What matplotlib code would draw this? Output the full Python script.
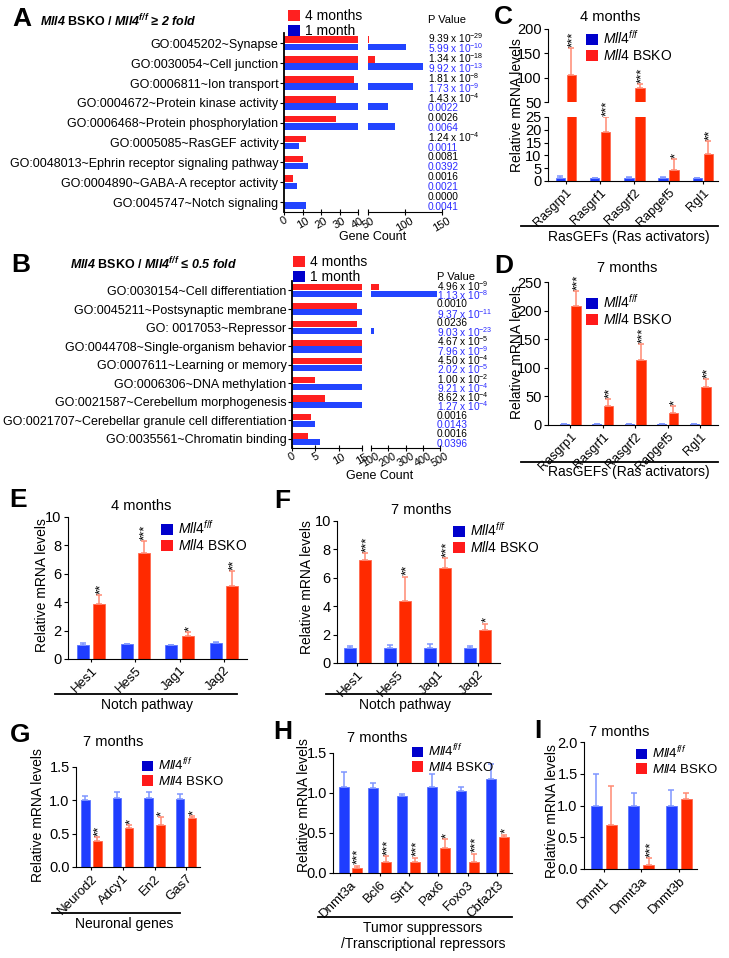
import matplotlib
matplotlib.use('Agg')
import matplotlib.pyplot as plt
import matplotlib.transforms as mtransforms
from matplotlib.lines import Line2D
from matplotlib.patches import Patch
import numpy as np

plt.rcParams['font.family'] = ['Liberation Sans', 'DejaVu Sans']
plt.rcParams['axes.facecolor'] = 'none'
plt.rcParams['mathtext.fontset'] = 'custom'
plt.rcParams['mathtext.rm'] = 'Liberation Sans'
plt.rcParams['mathtext.it'] = 'Liberation Sans:italic'
plt.rcParams['mathtext.bf'] = 'Liberation Sans:bold'
plt.rcParams['mathtext.bfit'] = 'Liberation Sans:bold:italic'

# ---- data: GO terms (A, B) ----
go_up_terms = ['GO:0045202~Synapse', 'GO:0030054~Cell junction', 'GO:0006811~Ion transport',
               'GO:0004672~Protein kinase activity', 'GO:0006468~Protein phosphorylation',
               'GO:0005085~RasGEF activity', 'GO:0048013~Ephrin receptor signaling pathway',
               'GO:0004890~GABA-A receptor activity', 'GO:0045747~Notch signaling']
go_up_4m = [52, 59, 38, 28, 28, 12, 10, 5, 0]
go_up_1m = [101, 124, 111, 77, 87, 8, 13, 7, 12]
go_up_p4m = [r'9.39 x 10$^{-29}$', r'1.34 x 10$^{-18}$', r'1.81 x 10$^{-8}$', r'1.43 x 10$^{-4}$',
             '0.0026', r'1.24 x 10$^{-4}$', '0.0081', '0.0016', '0.0000']
go_up_p1m = [r'5.99 x 10$^{-10}$', r'9.92 x 10$^{-13}$', r'1.73 x 10$^{-9}$', '0.0022',
             '0.0064', '0.0011', '0.0392', '0.0021', '0.0041']

go_down_terms = ['GO:0030154~Cell differentiation', 'GO:0045211~Postsynaptic membrane',
                 'GO: 0017053~Repressor', 'GO:0044708~Single-organism behavior',
                 'GO:0007611~Learning or memory', 'GO:0006306~DNA methylation',
                 'GO:0021587~Cerebellum morphogenesis',
                 'GO:0021707~Cerebellar granule cell differentiation',
                 'GO:0035561~Chromatin binding']
go_down_4m = [146, 14, 14, 15, 15, 5, 7, 4, 3.5]
go_down_1m = [480, 15, 119, 15, 15, 15, 15, 5, 6]
go_down_p4m = [r'4.96 x 10$^{-9}$', '0.0010', '0.0236', r'4.67 x 10$^{-5}$', r'4.50 x 10$^{-4}$',
               r'1.00 x 10$^{-2}$', r'8.62 x 10$^{-4}$', '0.0016', '0.0016']
go_down_p1m = [r'1.13 x 10$^{-8}$', r'9.37 x 10$^{-11}$', r'9.03 x 10$^{-23}$', r'7.96 x 10$^{-9}$',
               r'2.02 x 10$^{-5}$', r'9.21 x 10$^{-4}$', r'1.27 x 10$^{-4}$', '0.0143', '0.0396']

# ---- data: qPCR (C - I) ----
rasgef_genes = ['Rasgrp1', 'Rasgrf1', 'Rasgrf2', 'Rapgef5', 'Rgl1']
c_ctrl = [1.0, 1.0, 1.0, 1.0, 1.0]
c_ctrl_err = [1.1, 0.3, 0.4, 0.4, 0.3]
c_ko = [105, 19, 79, 4.3, 10.4]
c_ko_err = [56, 6, 7, 4.2, 5.2]
c_sig = ['***', '***', '***', '*', '**']

d_ctrl = [1.0, 1.0, 1.0, 1.0, 1.0]
d_ctrl_err = [0.6, 0.4, 0.5, 0.5, 0.4]
d_ko = [208, 33, 113, 21.5, 66]
d_ko_err = [26, 12, 28, 11.5, 14]
d_sig = ['***', '**', '***', '*', '**']

notch_genes = ['Hes1', 'Hes5', 'Jag1', 'Jag2']
e_ctrl = [1.0, 1.05, 0.97, 1.12]
e_ctrl_err = [0.15, 0.04, 0.04, 0.07]
e_ko = [3.9, 7.45, 1.62, 5.15]
e_ko_err = [0.6, 0.85, 0.25, 1.05]
e_sig = ['**', '***', '*', '**']

f_ctrl = [1.06, 1.06, 1.06, 1.06]
f_ctrl_err = [0.17, 0.22, 0.3, 0.13]
f_ko = [7.25, 4.35, 6.7, 2.35]
f_ko_err = [0.5, 1.72, 0.68, 0.42]
f_sig = ['***', '**', '***', '*']

neuro_genes = ['Neurod2', 'Adcy1', 'En2', 'Gas7']
g_ctrl = [1.0, 1.04, 1.04, 1.02]
g_ctrl_err = [0.06, 0.08, 0.08, 0.07]
g_ko = [0.39, 0.59, 0.63, 0.74]
g_ko_err = [0.06, 0.04, 0.12, 0.02]
g_sig = ['**', '*', '*', '*']

tsg_genes = ['Dnmt3a', 'Bcl6', 'Sirt1', 'Pax6', 'Foxo3', 'Cbfa2t3']
h_ctrl = [1.07, 1.06, 0.96, 1.07, 1.03, 1.17]
h_ctrl_err = [0.19, 0.07, 0.03, 0.17, 0.04, 0.19]
h_ko = [0.06, 0.14, 0.14, 0.31, 0.14, 0.45]
h_ko_err = [0.03, 0.07, 0.05, 0.11, 0.1, 0.03]
h_sig = ['***', '***', '***', '*', '***', '*']

dnmt_genes = ['Dnmt1', 'Dnmt3a', 'Dnmt3b']
i_ctrl = [1.0, 1.0, 1.0]
i_ctrl_err = [0.5, 0.2, 0.25]
i_ko = [0.7, 0.06, 1.1]
i_ko_err = [0.6, 0.11, 0.1]
i_sig = ['', '***', '']

# ---- styles ----
BLUE, BLUE_ERR = '#1f3dff', '#7f96ff'
RED, RED_ERR = '#ff2a00', '#ff8a73'
GO_RED, GO_BLUE = '#ff2020', '#2244ff'
P_BLUE = '#2b2bff'
LEG_BLUE, LEG_RED = '#0000cc', '#ff1a1a'

W, H = 729, 958
fig = plt.figure(figsize=(W / 100, H / 100), dpi=100)


def box(l, t, r, b):
    return [l / W, 1 - b / H, (r - l) / W, (b - t) / H]


def fx(x):
    return x / W


def fy(y):
    return 1 - y / H


def hline(x1, x2, y):
    fig.add_artist(Line2D([fx(x1), fx(x2)], [fy(y), fy(y)], transform=fig.transFigure,
                          color='black', lw=1.3))


def ftext(x, y, s, **kw):
    fig.text(fx(x), fy(y), s, **kw)


def legend(ax, x, y, labels, colors, size):
    handles = [Patch(facecolor=c, edgecolor='none') for c in colors]
    ax.legend(handles, labels, loc='upper left', bbox_to_anchor=(fx(x), fy(y)),
              bbox_transform=fig.transFigure, frameon=False, fontsize=size,
              handlelength=0.85, handleheight=0.85, handletextpad=0.35,
              labelspacing=0.1, borderpad=0, borderaxespad=0)


# ---------------- GO panels ----------------
def go_panel(ax_l, ax_r, terms, v4, v1, p4, p1, lmax, rlim, lticks, rticks, ylim, px):
    y = np.arange(len(terms))
    for ax in (ax_l, ax_r):
        ax.barh(y - 0.18, v4, 0.33, color=GO_RED)
        ax.barh(y + 0.18, v1, 0.33, color=GO_BLUE)
        ax.set_ylim(ylim)
        ax.spines[['top', 'right']].set_visible(False)
        ax.tick_params(axis='x', direction='inout', length=5, labelsize=8,
                       labelrotation=30, pad=0)
    ax_l.set_xlim(0, lmax)
    ax_r.set_xlim(*rlim)
    ax_l.set_xticks(lticks)
    ax_r.set_xticks(rticks)
    ax_l.set_yticks(y)
    ax_l.set_yticklabels(terms, fontsize=9)
    ax_l.tick_params(axis='y', length=3, pad=1)
    ax_r.set_yticks([])
    ax_r.spines['left'].set_visible(False)
    ax_l.spines['left'].set_linewidth(1.3)
    trans = mtransforms.blended_transform_factory(fig.transFigure, ax_l.transData)
    for i in range(len(terms)):
        ax_l.text(fx(px), i - 0.25, p4[i], transform=trans, fontsize=7.3,
                  color='black', va='center', ha='left')
        ax_l.text(fx(px), i + 0.25, p1[i], transform=trans, fontsize=7.3,
                  color=P_BLUE, va='center', ha='left')


axA1 = fig.add_axes(box(284, 33, 358, 212))
axA2 = fig.add_axes(box(368, 33, 442, 212))
go_panel(axA1, axA2, go_up_terms, go_up_4m, go_up_1m, go_up_p4m, go_up_p1m,
         40, (50, 150), [0, 10, 20, 30, 40], [50, 100, 150], (8.5, -0.52), 428)
ftext(373, 237, 'Gene Count', fontsize=9, ha='center', va='center')
ftext(428, 20, 'P Value', fontsize=8, ha='left', va='center')
legend(axA1, 288, 9, ['4 months', '1 month'], [GO_RED, LEG_BLUE], 10)
ftext(22, 19, 'A', fontsize=19, fontweight='bold', ha='center', va='center')
ftext(40, 21, r'$\mathbfit{Mll4}$ BSKO / $\mathbfit{Mll4}^{\mathbfit{f/f}}$ $\mathbfit{≥\ 2\ fold}$',
      fontsize=9, fontweight='bold', ha='left', va='center')

axB1 = fig.add_axes(box(292, 281, 362, 448))
axB2 = fig.add_axes(box(371, 281, 440, 448))
go_panel(axB1, axB2, go_down_terms, go_down_4m, go_down_1m, go_down_p4m, go_down_p1m,
         15, (100, 500), [0, 5, 10, 15], [100, 200, 300, 400, 500], (8.49, -0.51), 437)
axB2.tick_params(axis='x', labelsize=7.8)
ftext(380, 476, 'Gene Count', fontsize=9, ha='center', va='center')
ftext(437, 277, 'P Value', fontsize=8, ha='left', va='center')
legend(axB1, 293, 255, ['4 months', '1 month'], [GO_RED, LEG_BLUE], 10)
ftext(21, 265, 'B', fontsize=19, fontweight='bold', ha='center', va='center')
ftext(70, 264, r'$\mathbfit{Mll4}$ BSKO / $\mathbfit{Mll4}^{\mathbfit{f/f}}$ $\mathbfit{≤\ 0.5\ fold}$',
      fontsize=9, fontweight='bold', ha='left', va='center')


# ---------------- qPCR panels ----------------
def qpcr(ax, genes, ctrl, ctrl_err, ko, ko_err, width, off, xlim, ylim, yticks, ylabels=None,
         show_x=True, xsize=9.5):
    n = len(genes)
    x = np.arange(n)
    zeros = np.zeros(n)
    ax.bar(x - off, ctrl, width, color=BLUE, edgecolor='#5a74ff', lw=0.6,
           yerr=[zeros, ctrl_err],
           error_kw=dict(ecolor=BLUE_ERR, elinewidth=1.1, capsize=2.5, capthick=1.1))
    ax.bar(x + off, ko, width, color=RED, edgecolor='#ff6a50', lw=0.6,
           yerr=[zeros, ko_err],
           error_kw=dict(ecolor=RED_ERR, elinewidth=1.1, capsize=2.5, capthick=1.1))
    ax.set_xlim(xlim)
    ax.set_ylim(ylim)
    ax.set_yticks(yticks)
    if ylabels is not None:
        ax.set_yticklabels(ylabels)
    ax.spines[['top', 'right']].set_visible(False)
    ax.tick_params(axis='y', labelsize=10.5, length=3, pad=1.5)
    ax.set_xticks(x)
    if show_x:
        ax.set_xticklabels(genes, rotation=45, ha='right', rotation_mode='anchor', fontsize=xsize)
        ax.tick_params(axis='x', length=2, pad=2)
    else:
        ax.set_xticklabels([])
        ax.tick_params(axis='x', length=0)


def stars(ax, ko, ko_err, sig, off, size=9.5):
    for i, s in enumerate(sig):
        if s:
            ax.annotate(s, (i + off, ko[i] + ko_err[i]), xytext=(1.5, 1),
                        textcoords='offset points', rotation=90, ha='center', va='bottom',
                        fontsize=size)


def ylab(x, y):
    ftext(x, y, 'Relative mRNA levels', rotation=90, fontsize=10, ha='center', va='center')


def title(x, y, s):
    ftext(x, y, s, fontsize=10.5, ha='center', va='center')


gleg = [r'$\mathit{Mll4^{f/f}}$', r'$\mathit{Mll4}$ BSKO']

# C (broken y axis)
axC1 = fig.add_axes(box(548, 29, 718, 102))
axC2 = fig.add_axes(box(548, 117, 718, 181))
for ax in (axC1, axC2):
    qpcr(ax, rasgef_genes, c_ctrl, c_ctrl_err, c_ko, c_ko_err, 0.28, 0.16, (-0.52, 4.44),
         (0, 25), [0, 5, 10, 15, 20, 25], show_x=(ax is axC2), xsize=9.2)
axC1.set_ylim(50, 200)
axC1.set_yticks([50, 100, 150, 200])
axC1.spines['bottom'].set_visible(False)
for i, s in enumerate(c_sig):
    top = c_ko[i] + c_ko_err[i]
    ax = axC1 if top > 25 else axC2
    ax.annotate(s, (i + 0.16, top), xytext=(1.5, 1), textcoords='offset points',
                rotation=90, ha='center', va='bottom', fontsize=9.5)
legend(axC1, 586, 29, gleg, [LEG_BLUE, LEG_RED], 10)
ylab(517, 105)
title(610, 17, '4 months')
ftext(503, 17, 'C', fontsize=19, fontweight='bold', ha='center', va='center')
hline(521, 718, 226)
ftext(629, 237, 'RasGEFs (Ras activators)', fontsize=10, ha='center', va='center')

# D
axD = fig.add_axes(box(548, 282, 718, 425))
qpcr(axD, rasgef_genes, d_ctrl, d_ctrl_err, d_ko, d_ko_err, 0.28, 0.18, (-0.68, 4.55),
     (0, 250), [0, 50, 100, 150, 200, 250], xsize=9.2)
stars(axD, d_ko, d_ko_err, d_sig, 0.18)
legend(axD, 586, 293, gleg, [LEG_BLUE, LEG_RED], 10)
ylab(517, 352)
title(627, 268, '7 months')
ftext(504, 266, 'D', fontsize=19, fontweight='bold', ha='center', va='center')
hline(521, 718, 462)
ftext(629, 472, 'RasGEFs (Ras activators)', fontsize=10, ha='center', va='center')

# E
axE = fig.add_axes(box(68, 517, 247, 659))
qpcr(axE, notch_genes, e_ctrl, e_ctrl_err, e_ko, e_ko_err, 0.27, 0.185, (-0.52, 3.52),
     (0, 10), [0, 2, 4, 6, 8, 10])
stars(axE, e_ko, e_ko_err, e_sig, 0.185)
legend(axE, 161, 519, gleg, [LEG_BLUE, LEG_RED], 10)
ylab(42, 585)
title(141, 506, '4 months')
ftext(18, 500, 'E', fontsize=19, fontweight='bold', ha='center', va='center')
hline(55, 237, 694)
ftext(147, 705, 'Notch pathway', fontsize=10, ha='center', va='center')

# F
axF = fig.add_axes(box(337, 521, 500, 663))
qpcr(axF, notch_genes, f_ctrl, f_ctrl_err, f_ko, f_ko_err, 0.3, 0.19, (-0.51, 3.56),
     (0, 10), [0, 2, 4, 6, 8, 10])
stars(axF, f_ko, f_ko_err, f_sig, 0.19)
legend(axF, 453, 521, gleg, [LEG_BLUE, LEG_RED], 10)
ylab(307, 587)
title(421, 510, '7 months')
ftext(282, 501, 'F', fontsize=19, fontweight='bold', ha='center', va='center')
hline(326, 491, 694)
ftext(405, 705, 'Notch pathway', fontsize=10, ha='center', va='center')

# G
axG = fig.add_axes(box(76, 767, 200, 867))
qpcr(axG, neuro_genes, g_ctrl, g_ctrl_err, g_ko, g_ko_err, 0.27, 0.19, (-0.49, 3.44),
     (0, 1.5), [0, 0.5, 1.0, 1.5], ['0.0', '0.5', '1.0', '1.5'])
stars(axG, g_ko, g_ko_err, g_sig, 0.19)
legend(axG, 142, 757, gleg, [LEG_BLUE, LEG_RED], 9.5)
ylab(38, 815)
title(113, 742, '7 months')
ftext(20, 735, 'G', fontsize=19, fontweight='bold', ha='center', va='center')
hline(52, 180, 913)
ftext(124, 924, 'Neuronal genes', fontsize=10, ha='center', va='center')

# H
axH = fig.add_axes(box(333, 753, 512, 873))
qpcr(axH, tsg_genes, h_ctrl, h_ctrl_err, h_ko, h_ko_err, 0.34, 0.22, (-0.58, 5.5),
     (0, 1.5), [0, 0.5, 1.0, 1.5], ['0.0', '0.5', '1.0', '1.5'])
stars(axH, h_ko, h_ko_err, h_sig, 0.22)
legend(axH, 412, 743, gleg, [LEG_BLUE, LEG_RED], 9.5)
ylab(304, 805)
title(377, 738, '7 months')
ftext(283, 732, 'H', fontsize=19, fontweight='bold', ha='center', va='center')
hline(318, 512, 917)
ftext(423, 928, 'Tumor suppressors', fontsize=10, ha='center', va='center')
ftext(423, 944, '/Transcriptional repressors', fontsize=10, ha='center', va='center')

# I
axI = fig.add_axes(box(584, 742, 697, 869))
qpcr(axI, dnmt_genes, i_ctrl, i_ctrl_err, i_ko, i_ko_err, 0.29, 0.2, (-0.52, 2.48),
     (0, 2.0), [0, 0.5, 1.0, 1.5, 2.0], ['0.0', '0.5', '1.0', '1.5', '2.0'])
stars(axI, i_ko, i_ko_err, i_sig, 0.2)
legend(axI, 636, 745, gleg, [LEG_BLUE, LEG_RED], 9.5)
ylab(552, 811)
title(619, 732, '7 months')
ftext(538, 731, 'I', fontsize=19, fontweight='bold', ha='center', va='center')

fig.savefig('out.png', dpi=100, facecolor='white')
